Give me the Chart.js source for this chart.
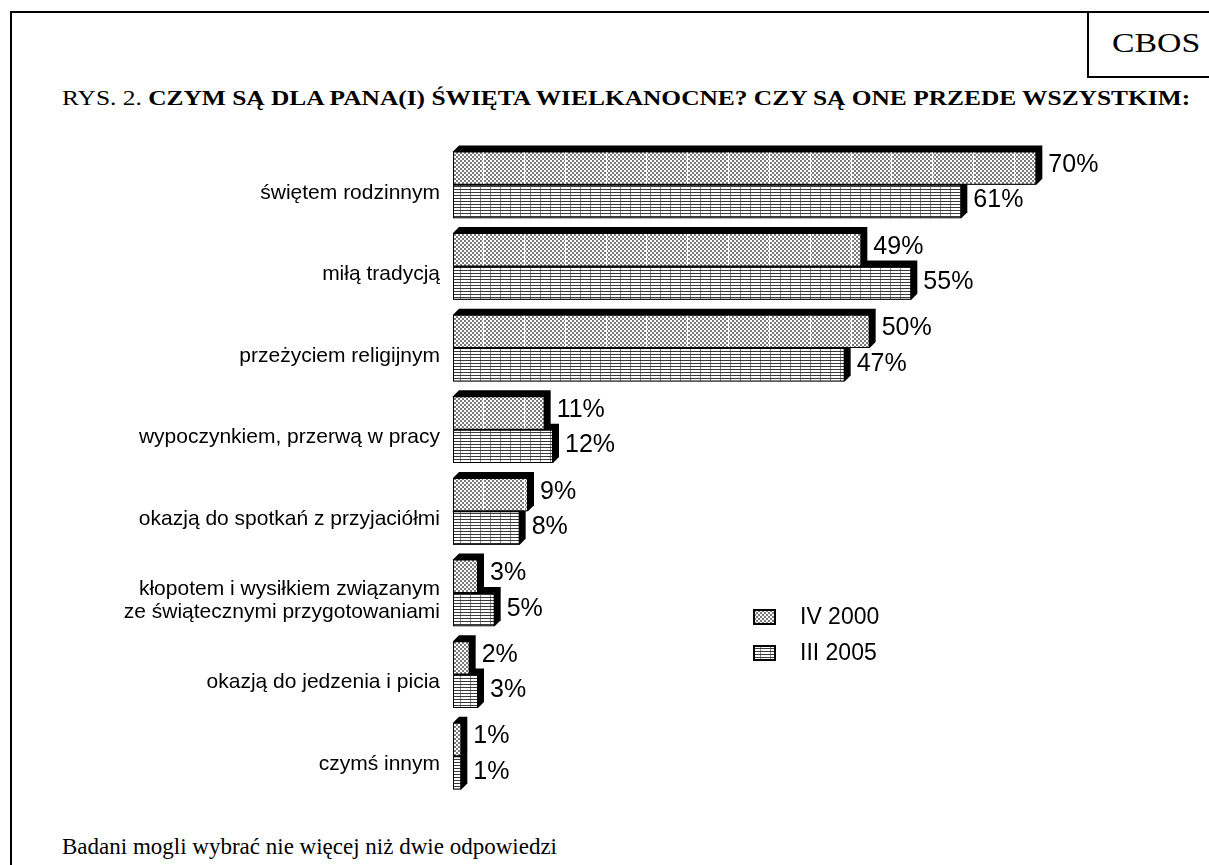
<html>
<head>
<meta charset="UTF-8"/>
<title>CBOS - Wielkanoc</title>
<script src="https://cdn.jsdelivr.net/npm/chart.js@4/dist/chart.umd.min.js"></script>
<style type="text/css">
    body { margin: 0; background: #fff; }
    #page { position: relative; width: 1209px; height: 865px; overflow: hidden; }
    #frame { position: absolute; left: 10px; top: 11px; width: 1300px; height: 900px; border-top: solid 2px #000; border-left: solid 2px #000; }
    #cbos { position: absolute; left: 1087px; top: 11px; width: 200px; height: 65px; border-left: solid 2px #000; border-bottom: solid 2px #000; }
    .serif { position: absolute; font-family: "Liberation Serif", "Times New Roman", serif; color: #000; white-space: nowrap; transform-origin: 0 0; }
    #cbostxt { left: 1112px; top: 28px; font-size: 27px; transform: scaleX(1.25); }
    #title { left: 62px; top: 86px; font-size: 21px; transform: scaleX(1.21); }
    #title b { font-weight: bold; }
    #foot { left: 62px; top: 834px; font-size: 23px; }
    #chartbox { position: absolute; left: 0; top: 120px; width: 1209px; height: 680px; }
</style>
</head>
<body>
<div id="page">
    <div id="frame"></div>
    <div id="cbos"></div>
    <div id="cbostxt" class="serif">CBOS</div>
    <div id="title" class="serif">RYS. 2. <b>CZYM SĄ DLA PANA(I) ŚWIĘTA WIELKANOCNE? CZY SĄ ONE PRZEDE WSZYSTKIM:</b></div>
    <div id="chartbox"><canvas id="chart-area" width="1209" height="680"></canvas></div>
    <div id="foot" class="serif">Badani mogli wybrać nie więcej niż dwie odpowiedzi</div>
</div>
<script type="text/javascript">
    // dane z rysunku
    var categories = ['świętem rodzinnym', 'miłą tradycją', 'przeżyciem religijnym', 'wypoczynkiem, przerwą w pracy',
        'okazją do spotkań z przyjaciółmi', ['kłopotem i wysiłkiem związanym', 'ze świątecznymi przygotowaniami'],
        'okazją do jedzenia i picia', 'czymś innym'];
    var seriesNames = ['IV 2000', 'III 2005'];
    var values2000 = [70, 49, 50, 11, 9, 3, 2, 1];
    var values2005 = [61, 55, 47, 12, 8, 5, 3, 1];

    var ctx = document.getElementById('chart-area').getContext('2d');

    function makePattern(kind) {
        var c = document.createElement('canvas');
        var g;
        if (kind == 1) {
            c.width = 4; c.height = 4;
            g = c.getContext('2d');
            g.fillStyle = '#fff'; g.fillRect(0, 0, 4, 4);
            g.fillStyle = '#7a7a7a';
            g.fillRect(0, 0, 2, 2); g.fillRect(2, 2, 2, 2);
        } else {
            c.width = 10; c.height = 3;
            g = c.getContext('2d');
            g.fillStyle = '#fff'; g.fillRect(0, 0, 10, 3);
            g.fillStyle = '#3a3a3a'; g.fillRect(0, 0, 10, 1);
            g.fillStyle = '#8a8a8a'; g.fillRect(0, 1, 1, 2);
        }
        return ctx.createPattern(c, 'repeat');
    }
    var pat1 = makePattern(1);
    var pat2 = makePattern(2);

    var DEPTH = 6;

    // cien 3D (czarny) za slupkami
    var shadowPlugin = {
        id: 'shadow3d',
        beforeDatasetsDraw: function (chart) {
            var c = chart.ctx;
            c.save();
            c.fillStyle = '#000';
            chart.data.datasets.forEach(function (ds, i) {
                chart.getDatasetMeta(i).data.forEach(function (bar) {
                    var p = bar.getProps(['x', 'y', 'base', 'height'], true);
                    var l = p.base, r = p.x, t = p.y - p.height / 2, b = p.y + p.height / 2;
                    c.beginPath();
                    c.moveTo(l, t);
                    c.lineTo(l + DEPTH, t - DEPTH);
                    c.lineTo(r + DEPTH, t - DEPTH);
                    c.lineTo(r + DEPTH, b - DEPTH);
                    c.lineTo(r, b);
                    c.lineTo(l, b);
                    c.closePath();
                    c.fill();
                });
            });
            c.restore();
        },
        afterDatasetsDraw: function (chart) {
            var c = chart.ctx;
            var xs = chart.scales.x;
            c.save();
            // biale linie na slupkach IV 2000
            c.strokeStyle = '#fff';
            c.lineWidth = 1;
            chart.getDatasetMeta(0).data.forEach(function (bar) {
                var p = bar.getProps(['x', 'y', 'base', 'height'], true);
                for (var v = 3.6; v < 90; v += 4.9) {
                    var px = Math.round(xs.getPixelForValue(v)) + 0.5;
                    if (px >= p.x - 1) break;
                    c.beginPath();
                    c.moveTo(px, p.y - p.height / 2 + 1);
                    c.lineTo(px, p.y + p.height / 2 - 1);
                    c.stroke();
                }
            });
            // etykiety wartosci
            c.fillStyle = '#000';
            c.font = '25px "Liberation Sans", Arial, sans-serif';
            c.textBaseline = 'middle';
            c.textAlign = 'left';
            chart.data.datasets.forEach(function (ds, i) {
                chart.getDatasetMeta(i).data.forEach(function (bar, j) {
                    var p = bar.getProps(['x', 'y'], true);
                    c.fillText(ds.data[j] + '%', p.x + 12, p.y - (i == 0 ? 3 : 1));
                });
            });
            c.restore();
        },
        afterDraw: function (chart) {
            // legenda
            var c = chart.ctx;
            c.save();
            c.font = '23px "Liberation Sans", Arial, sans-serif';
            c.textBaseline = 'middle';
            chart.data.datasets.forEach(function (ds, i) {
                var y = 497 + i * 36;
                c.fillStyle = ds.backgroundColor;
                c.fillRect(754, y - 7, 21, 14);
                c.strokeStyle = '#000';
                c.lineWidth = 2;
                c.strokeRect(754, y - 7, 21, 14);
                c.fillStyle = '#000';
                c.fillText(ds.label, 800, y + 1);
            });
            c.restore();
        }
    };

    var config = {
        type: 'bar',
        data: {
            labels: categories,
            datasets: [{
                label: seriesNames[0],
                data: values2000,
                backgroundColor: pat1,
                borderColor: '#000',
                borderWidth: 1,
                borderSkipped: false
            }, {
                label: seriesNames[1],
                data: values2005,
                backgroundColor: pat2,
                borderColor: '#000',
                borderWidth: 1,
                borderSkipped: false
            }]
        },
        options: {
            indexAxis: 'y',
            responsive: false,
            animation: false,
            categoryPercentage: 0.817,
            barPercentage: 1,
            layout: { padding: { top: 24, right: 6, bottom: 3, left: 0 } },
            plugins: { legend: { display: false }, tooltip: { enabled: false } },
            scales: {
                x: { display: false, min: 0, max: 90 },
                y: {
                    grid: { display: false },
                    border: { display: false },
                    ticks: {
                        color: '#000',
                        padding: 5,
                        labelOffset: 8,
                        font: { family: '"Liberation Sans", Arial, sans-serif', size: 21, lineHeight: 1.1 }
                    },
                    afterFit: function (scale) {
                        scale.width = 453;
                        scale.paddingTop = 0;
                        scale.paddingBottom = 0;
                    }
                }
            }
        },
        plugins: [shadowPlugin]
    };
    window.myBar = new Chart(ctx, config);
</script>
</body>
</html>
